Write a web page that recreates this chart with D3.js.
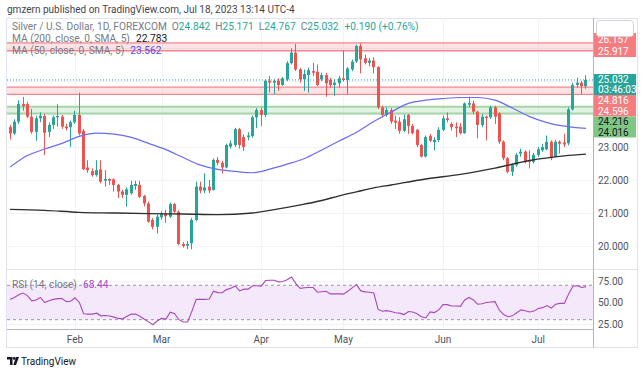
<!DOCTYPE html>
<html lang="en">
<head>
<meta charset="utf-8">
<title>Silver / U.S. Dollar, 1D, FOREXCOM</title>
<script src="https://d3js.org/d3.v7.min.js"></script>
<style>
  body { margin: 0; background: #fff; }
  svg { display: block; font-family: Roboto, "Open Sans", sans-serif; }
</style>
</head>
<body>
<script>
// ---- data ----
const firstDay = "2023-01-11", lastDay = "2023-07-18";
const closedDays = ["2023-04-07"];

const opens = [
  23.60,23.41,23.77,24.30,24.30,23.92,23.46,23.87,23.94,23.46,
  23.67,23.90,23.92,23.62,23.60,23.75,23.97,23.49,22.38,22.27,
  22.15,22.32,21.98,22.03,22.02,21.85,21.65,21.55,21.60,21.82,
  21.85,21.52,21.29,20.79,20.58,20.87,20.99,20.89,21.27,21.04,
  20.06,20.01,20.08,20.79,21.80,21.68,21.80,21.70,22.61,22.52,
  22.38,23.01,23.06,23.54,23.30,23.30,23.33,23.90,24.12,23.97,
  25.01,24.95,25.01,24.88,25.05,25.54,25.86,25.35,25.05,25.18,
  25.30,25.28,25.05,25.18,25.03,24.88,24.93,25.08,25.03,25.35,
  25.59,26.06,25.69,25.55,25.62,25.42,24.20,23.97,24.12,23.80,
  23.77,23.49,23.97,23.64,23.52,23.06,22.71,23.33,23.15,23.21,
  23.52,23.87,23.70,23.62,23.62,23.42,24.28,24.32,24.07,23.67,
  23.92,23.90,24.20,24.02,23.16,22.66,22.25,22.45,22.80,22.86,
  22.60,22.55,22.76,22.90,22.93,23.16,22.71,23.16,23.14,23.11,
  24.14,24.88,24.95,24.842
];
const highs = [
  23.67,23.84,24.42,24.52,24.37,24.15,23.95,24.05,24.00,23.75,
  23.95,24.30,23.97,23.70,23.80,24.10,24.65,23.55,22.60,22.35,
  22.60,22.60,22.30,22.05,22.05,21.88,21.70,21.78,21.98,21.98,
  21.98,21.55,21.35,20.85,20.95,21.05,21.10,21.32,21.30,21.08,
  20.12,20.15,20.85,21.95,21.95,22.20,22.00,22.65,22.70,22.58,
  23.10,23.20,23.58,23.58,23.38,23.45,23.95,24.18,24.20,25.05,
  25.15,25.05,25.08,25.12,25.60,25.99,26.12,25.40,25.35,25.40,
  25.55,25.50,25.25,25.25,25.10,25.05,25.15,25.92,25.42,25.65,
  26.10,26.14,25.80,25.70,25.72,25.45,24.25,24.20,24.18,23.95,
  23.90,23.98,24.00,23.70,23.55,23.10,23.35,23.40,23.30,23.60,
  23.95,24.05,23.75,23.75,23.72,24.35,24.52,24.40,24.10,24.00,
  23.95,24.25,24.25,24.05,23.20,22.70,22.50,22.82,22.95,22.90,
  22.90,22.82,23.00,23.10,23.35,23.20,23.22,23.20,23.40,24.20,
  24.95,25.10,25.00,25.171
];
const lows = [
  23.23,23.36,23.70,24.10,23.88,23.40,23.19,23.75,22.76,23.30,
  23.55,23.62,23.55,23.50,23.00,23.70,23.35,22.30,22.22,22.10,
  22.10,21.90,21.80,21.85,21.65,21.45,21.45,21.19,21.55,21.70,
  21.45,21.20,20.70,20.50,20.38,20.80,20.70,20.85,21.00,20.02,
  19.95,19.90,19.90,20.75,21.60,21.60,21.60,21.68,22.45,22.20,
  22.35,22.95,23.00,22.95,22.88,23.20,23.28,23.57,23.63,23.90,
  24.65,24.60,24.70,24.85,25.00,25.50,25.30,24.95,24.70,24.65,
  25.15,24.85,25.00,24.52,24.80,24.55,24.80,24.98,24.60,25.30,
  25.55,25.23,25.50,25.45,25.23,24.15,23.90,23.92,23.70,23.55,
  23.40,23.45,23.40,23.38,23.00,22.68,22.68,23.15,22.90,23.15,
  23.48,23.75,23.50,23.30,23.38,23.40,24.20,24.00,23.26,23.60,
  23.20,23.85,23.70,23.10,22.60,22.20,22.12,22.40,22.70,22.50,
  22.35,22.50,22.70,22.85,22.90,22.60,22.68,22.80,23.00,23.05,
  24.10,24.80,24.60,24.767
];
const closes = [
  23.41,23.77,24.30,24.24,23.92,23.46,23.87,23.95,23.43,23.67,
  23.90,23.94,23.62,23.57,23.75,23.97,23.41,22.33,22.30,22.15,
  22.30,21.95,22.03,21.98,21.85,21.65,21.55,21.72,21.85,21.88,
  21.49,21.29,20.74,20.58,20.89,20.99,20.90,21.27,21.04,20.06,
  20.00,20.06,20.79,21.80,21.68,21.78,21.68,22.61,22.52,22.38,
  23.06,23.11,23.54,23.06,23.00,23.35,23.90,24.12,23.97,25.01,
  24.95,25.01,24.88,25.08,25.54,25.86,25.35,25.05,25.21,25.33,
  25.25,24.88,25.18,24.93,24.88,24.95,25.08,25.03,25.38,25.59,
  26.06,25.66,25.55,25.62,25.42,24.20,23.97,24.12,23.77,23.74,
  23.49,23.84,23.64,23.42,23.06,22.71,23.30,23.19,23.22,23.52,
  23.87,23.82,23.60,23.57,23.42,24.32,24.33,24.07,23.67,23.92,
  23.88,24.20,23.92,23.16,22.66,22.25,22.45,22.76,22.86,22.55,
  22.55,22.76,22.93,23.00,23.16,22.66,23.16,23.10,23.08,24.14,
  24.88,24.95,24.842,25.032
];

// moving averages, read at bar positions
const ma50Bars = [0,4,8,12,16,20,24,28,32,36,40,44,48,52,56,60,64,68,72,76,80,84,88,92,96,100,104,108,112,116,120,124,128,133];
const ma50 = [22.39,22.74,22.94,23.11,23.32,23.42,23.39,23.29,23.11,22.92,22.68,22.45,22.32,22.26,22.22,22.33,22.48,22.65,22.91,23.18,23.45,23.77,24.06,24.32,24.42,24.47,24.50,24.50,24.42,24.18,23.92,23.74,23.63,23.562];
const ma200Bars = [0,8,16,24,32,40,48,56,60,64,68,72,76,80,84,88,96,104,112,120,128,133];
const ma200 = [21.11,21.08,21.02,21.00,20.98,20.97,20.95,21.00,21.08,21.17,21.27,21.38,21.52,21.64,21.76,21.85,22.03,22.17,22.36,22.59,22.73,22.783];

const rsi = [
  53.6,55.9,59.0,61.0,58.0,52.0,53.0,55.8,50.0,52.0,
  53.6,54.5,54.5,51.0,51.5,55.5,50.0,37.0,36.5,36.5,
  37.6,34.5,34.8,34.3,33.0,31.5,31.0,34.0,36.5,36.5,
  34.0,30.5,27.5,24.2,28.8,31.5,30.7,38.7,37.0,30.0,
  27.3,27.3,40.0,53.6,53.6,53.6,54.0,63.2,61.5,61.3,
  65.0,66.5,69.3,63.5,65.5,65.5,69.5,69.5,69.0,75.5,
  75.8,75.8,74.0,74.5,76.5,79.6,72.0,66.5,67.2,67.4,
  67.4,62.0,62.5,63.0,60.0,60.2,60.0,59.7,63.0,67.0,
  71.0,63.5,62.4,62.0,61.0,42.0,39.8,40.5,39.5,38.0,
  37.6,36.0,39.5,39.0,37.0,33.5,32.0,39.0,38.3,41.4,
  47.5,47.5,46.0,46.0,45.5,53.0,55.9,53.0,48.0,48.5,
  50.0,50.5,51.0,41.0,36.0,33.5,34.5,38.0,41.4,40.5,
  39.0,40.0,43.0,44.0,46.5,43.5,48.0,49.0,49.0,60.0,
  69.0,69.5,67.5,68.44
];

const zoneTop = [26.157, 24.816, 24.216];
const zoneBottom = [25.917, 24.596, 24.016];
const zoneKind = ["red", "red", "green"];
const lastPrice = 25.032;
const countdown = "03:46:03";
const priceTicks = [20, 21, 22, 23];
const priceGrid = [20, 21, 22, 23, 24, 25, 26];
const rsiTicks = [25, 50, 75];
const rsiBand = [30, 70];
const monthTicks = ["2023-02-01", "2023-03-01", "2023-04-03", "2023-05-01", "2023-06-01", "2023-07-03"];

// ---- layout ----
const width = 643, height = 373;
const left = 7, right = 593, paneTop = 18, mainBottom = 268, rsiTop = 270, timeAxisY = 329.5, frameBottom = 347;
const up = "#26a69a", down = "#ef5350";
const grid = "#f0f3fa";

const parse = d3.timeParse("%Y-%m-%d"), fmt = d3.timeFormat("%Y-%m-%d");
const days = d3.timeDay.range(parse(firstDay), d3.timeDay.offset(parse(lastDay), 1))
  .filter(d => d.getDay() % 6 !== 0 && !closedDays.includes(fmt(d)))
  .map(fmt);

const candles = days.map((d, i) => ({ date: d, o: opens[i], h: highs[i], l: lows[i], c: closes[i] }));

const x = d3.scaleBand().domain(days).range([7.9, 7.9 + days.length * 4.33])
  .paddingInner(0.3).paddingOuter(0.15);
const cx = d => x(d) + x.bandwidth() / 2;
const y = d3.scaleLinear().domain([20, 23]).range([246, 147]);
const ry = d3.scaleLinear().domain([25, 75]).range([324, 281]);

const svg = d3.select("body").append("svg").attr("width", width).attr("height", height);

const defs = svg.append("defs");
defs.append("clipPath").attr("id", "main")
  .append("rect").attr("x", left).attr("y", paneTop).attr("width", right - left).attr("height", mainBottom - paneTop);
defs.append("clipPath").attr("id", "lower")
  .append("rect").attr("x", left).attr("y", rsiTop).attr("width", right - left).attr("height", timeAxisY - rsiTop);

// header
svg.append("text").attr("x", 7).attr("y", 13).attr("font-size", 10).attr("fill", "#434651")
  .text("gmzern published on TradingView.com, Jul 18, 2023 13:14 UTC-4");

// frame
svg.append("rect").attr("x", 6.5).attr("y", paneTop + 0.5).attr("width", 631).attr("height", frameBottom - paneTop)
  .attr("fill", "none").attr("stroke", "#e0e3eb");

// grid
svg.append("g").selectAll("line").data(monthTicks).join("line")
  .attr("x1", d => Math.round(cx(d)) + 0.5).attr("x2", d => Math.round(cx(d)) + 0.5)
  .attr("y1", paneTop).attr("y2", timeAxisY).attr("stroke", grid);
svg.append("g").selectAll("line").data(priceGrid).join("line")
  .attr("x1", left).attr("x2", right)
  .attr("y1", d => Math.round(y(d)) + 0.5).attr("y2", d => Math.round(y(d)) + 0.5).attr("stroke", grid);
svg.append("g").selectAll("line").data(rsiTicks).join("line")
  .attr("x1", left).attr("x2", right)
  .attr("y1", d => Math.round(ry(d)) + 0.5).attr("y2", d => Math.round(ry(d)) + 0.5).attr("stroke", grid);

// zones
const zones = svg.append("g").attr("clip-path", "url(#main)");
zoneTop.forEach((t, i) => {
  const red = zoneKind[i] === "red";
  zones.append("rect").attr("x", left).attr("width", right - left)
    .attr("y", y(t)).attr("height", y(zoneBottom[i]) - y(t))
    .attr("fill", red ? "rgba(242,54,69,0.14)" : "rgba(76,175,80,0.16)");
  [t, zoneBottom[i]].forEach(v => {
    zones.append("line").attr("x1", left).attr("x2", right).attr("y1", y(v)).attr("y2", y(v))
      .attr("stroke", red ? "#f4878c" : "#a5d6a7").attr("stroke-width", red ? 1.3 : 2);
  });
});

// candles
const cg = svg.append("g").attr("clip-path", "url(#main)");
cg.selectAll("line").data(candles).join("line")
  .attr("x1", d => Math.round(x(d.date)) + 1.5).attr("x2", d => Math.round(x(d.date)) + 1.5)
  .attr("y1", d => y(d.h)).attr("y2", d => y(d.l))
  .attr("stroke", d => d.c >= d.o ? up : down).attr("stroke-width", 1);
cg.selectAll("rect").data(candles).join("rect")
  .attr("x", d => Math.round(x(d.date))).attr("width", 3)
  .attr("y", d => y(Math.max(d.o, d.c)))
  .attr("height", d => Math.max(1, Math.abs(y(d.o) - y(d.c))))
  .attr("fill", d => d.c >= d.o ? up : down);

// moving averages
const maLine = bars => d3.line().x((v, i) => cx(days[bars[i]])).y(v => y(v)).curve(d3.curveMonotoneX);
cg.append("path").attr("d", maLine(ma200Bars)(ma200)).attr("fill", "none")
  .attr("stroke", "#2f2f2f").attr("stroke-width", 1.4);
cg.append("path").attr("d", maLine(ma50Bars)(ma50)).attr("fill", "none")
  .attr("stroke", "#6b6bf5").attr("stroke-width", 1.2);

// last price line
cg.append("line").attr("x1", left).attr("x2", right).attr("y1", y(lastPrice)).attr("y2", y(lastPrice))
  .attr("stroke", up).attr("stroke-dasharray", "1,2");

// RSI pane
const lower = svg.append("g").attr("clip-path", "url(#lower)");
lower.append("rect").attr("x", left).attr("width", right - left)
  .attr("y", ry(rsiBand[1])).attr("height", ry(rsiBand[0]) - ry(rsiBand[1])).attr("fill", "#f4e8fb");
lower.selectAll("line.band").data(rsiBand).join("line").attr("class", "band")
  .attr("x1", left).attr("x2", right).attr("y1", d => ry(d)).attr("y2", d => ry(d))
  .attr("stroke", "#9598a1").attr("stroke-dasharray", "3,3");
lower.append("path")
  .attr("d", d3.line().x((v, i) => cx(days[i])).y(v => ry(v))(rsi))
  .attr("fill", "none").attr("stroke", "#ab47bc").attr("stroke-width", 1.1);

// pane separators and axis borders
svg.append("line").attr("x1", left).attr("x2", 638).attr("y1", 269.5).attr("y2", 269.5).attr("stroke", "#e0e3eb");
svg.append("line").attr("x1", left).attr("x2", right + 0.5).attr("y1", timeAxisY).attr("y2", timeAxisY).attr("stroke", "#b2b5be");
svg.append("line").attr("x1", right + 0.5).attr("x2", right + 0.5).attr("y1", paneTop).attr("y2", frameBottom + 0.5).attr("stroke", "#b2b5be");

// axes
const styleAxis = g => {
  g.select(".domain").remove();
  g.selectAll("text").attr("font-size", 10).attr("fill", "#50535e").attr("font-family", "Roboto, sans-serif");
};
svg.append("g").attr("transform", `translate(0,${timeAxisY})`)
  .call(d3.axisBottom(x).tickValues(monthTicks).tickSize(0).tickPadding(6)
    .tickFormat(d => d3.timeFormat("%b")(parse(d))))
  .call(styleAxis);
svg.append("g").attr("transform", `translate(${right},0)`)
  .call(d3.axisRight(y).tickValues(priceTicks).tickSize(0).tickPadding(5).tickFormat(d3.format(".3f")))
  .call(styleAxis);
svg.append("g").attr("transform", `translate(${right},0)`)
  .call(d3.axisRight(ry).tickValues(rsiTicks).tickSize(0).tickPadding(5).tickFormat(d3.format(".2f")))
  .call(styleAxis);

// price labels on the axis
const tags = [
  { y0: 33, y1: 57, fill: "#f77c80", color: "#fff", lines: [zoneTop[0], zoneBottom[0]].map(v => v.toFixed(3)) },
  { y0: 74, y1: 95, fill: up, color: "#fff", lines: [lastPrice.toFixed(3), countdown] },
  { y0: 95, y1: 116.5, fill: "#f77c80", color: "#fff", lines: [zoneTop[1], zoneBottom[1]].map(v => v.toFixed(3)) },
  { y0: 116.5, y1: 137.5, fill: "#81c784", color: "#131722", lines: [zoneTop[2], zoneBottom[2]].map(v => v.toFixed(3)) }
];
tags.forEach(t => {
  svg.append("rect").attr("x", right + 1).attr("y", t.y0).attr("width", 42).attr("height", t.y1 - t.y0).attr("fill", t.fill);
  const h = (t.y1 - t.y0) / 2;
  t.lines.forEach((s, i) => {
    svg.append("text").attr("x", right + 5).attr("y", t.y0 + h * i + h / 2 + 3.5)
      .attr("font-size", 10).attr("fill", t.color).text(s);
  });
});
svg.append("rect").attr("x", 596.5).attr("y", 20.5).attr("width", 37).attr("height", 16).attr("rx", 3)
  .attr("fill", "#fff").attr("stroke", "#d1d4dc");

// legends
const legend = (yy, parts) => {
  const t = svg.append("text").attr("x", 12).attr("y", yy).attr("font-size", 10.2);
  parts.forEach(([s, c, dx]) => t.append("tspan").attr("dx", dx || 0).attr("fill", c).text(s));
};
const gray = "#787b86";
legend(29.5, [["Silver / U.S. Dollar, 1D, FOREXCOM", gray], ["O", gray, 5], [opens[133].toFixed(3), up],
  ["H", gray, 5], [highs[133].toFixed(3), up], ["L", gray, 5], [lows[133].toFixed(3), up],
  ["C", gray, 5], [closes[133].toFixed(3), up], ["+0.190 (+0.76%)", up, 6]]);
legend(41.5, [["MA (200, close, 0, SMA, 5)", gray], [ma200[ma200.length - 1].toFixed(3), "#131722", 6]]);
legend(53.5, [["MA (50, close, 0, SMA, 5)", gray], [ma50[ma50.length - 1].toFixed(3), "#5050f0", 6]]);
legend(288, [["RSI (14, close)", gray], [rsi[rsi.length - 1].toFixed(2), "#ab47bc", 6]]);

// footer logo
const logo = svg.append("g").attr("transform", "translate(7,357)").attr("fill", "#131722");
logo.append("path").attr("d", "M0 0H5.5V8H3V2.6H0Z");
logo.append("circle").attr("cx", 7.2).attr("cy", 1.4).attr("r", 1.4);
logo.append("path").attr("d", "M9 0H12L9 8H6.3Z");
svg.append("text").attr("x", 21).attr("y", 365).attr("font-size", 10).attr("fill", "#131722")
  .text("TradingView");
</script>
</body>
</html>
